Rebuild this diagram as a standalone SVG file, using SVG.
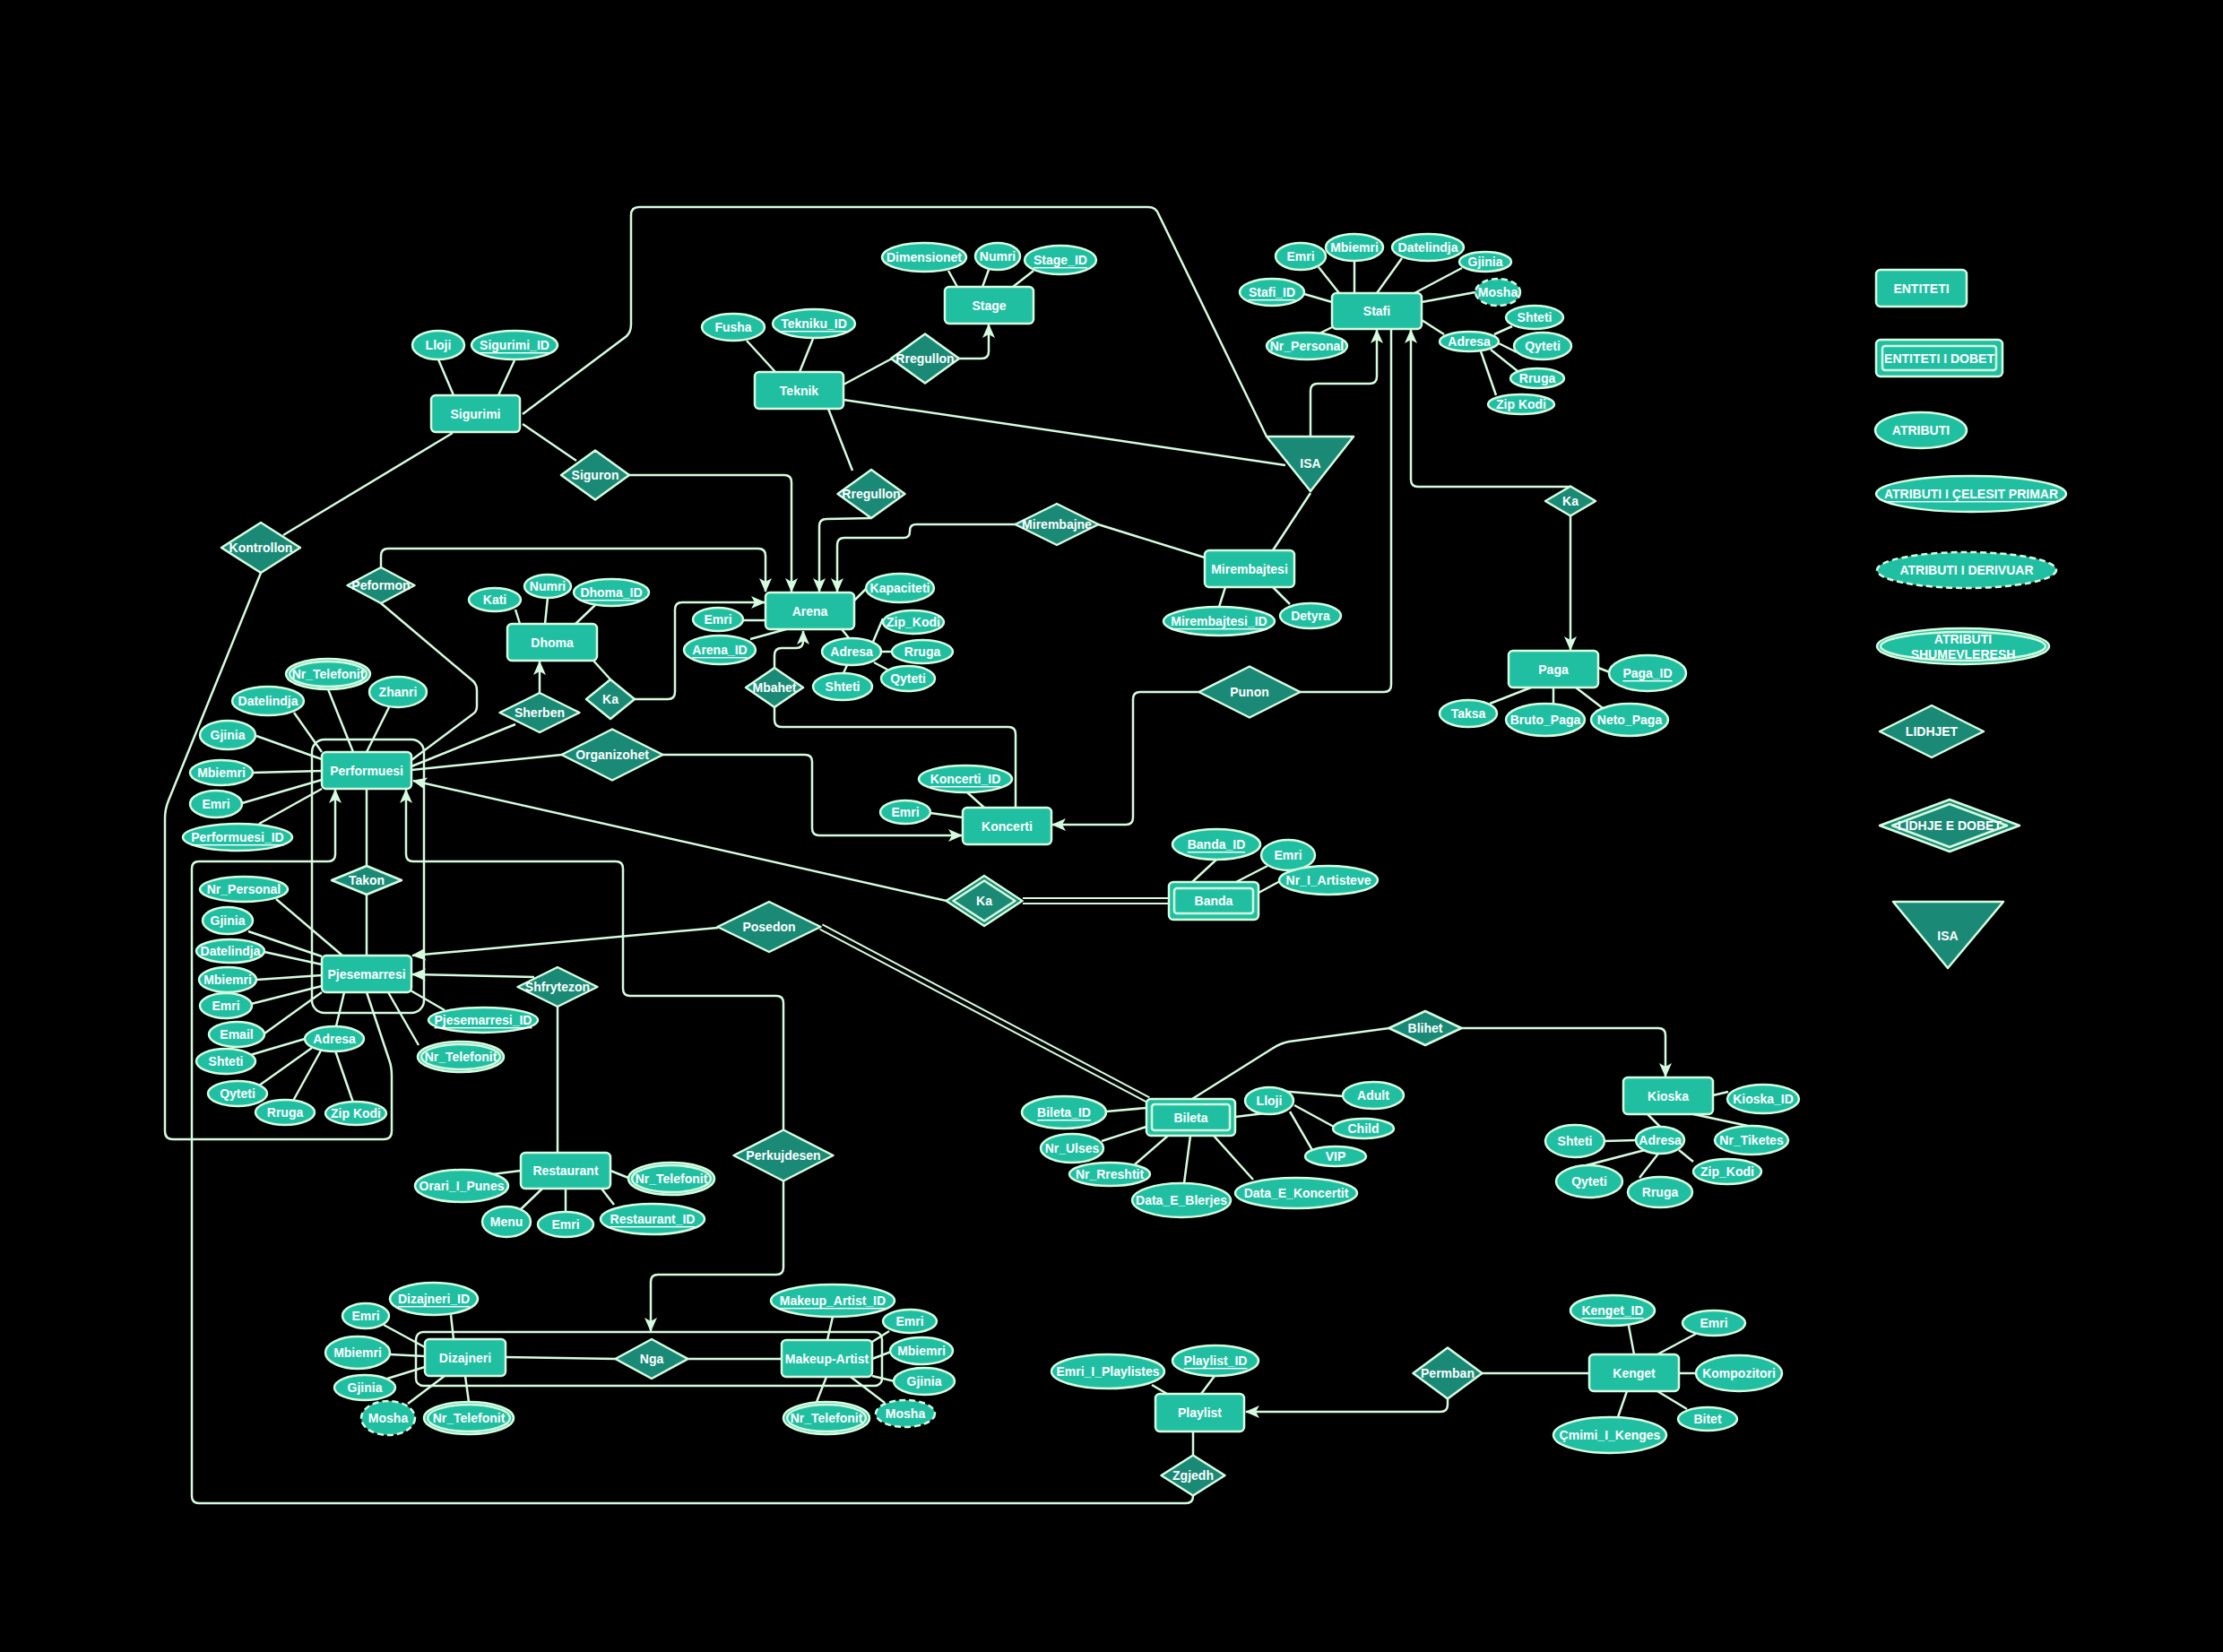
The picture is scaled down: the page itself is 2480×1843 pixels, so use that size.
<svg xmlns="http://www.w3.org/2000/svg" width="2480" height="1843" viewBox="0 0 2480 1843">
<defs>
<style>
.e{fill:#21BFA2;stroke:#D6FCE0;stroke-width:2.5}
.a{fill:#21BFA2;stroke:#D6FCE0;stroke-width:2.5}
.d{stroke-dasharray:7 4}
.r{fill:#1A8A76;stroke:#D6FCE0;stroke-width:2.5;stroke-linejoin:round}
.w{fill:none;stroke:#D6FCE0;stroke-width:2.5}
text{fill:#fff;font-family:"Liberation Sans",Arial,sans-serif;font-weight:700;font-size:14px;text-anchor:middle;dominant-baseline:central}
.u{text-decoration:underline}
.c path,.c line{fill:none;stroke:#D6FCE0;stroke-width:2.5}
.c .ar{marker-end:url(#ar)}
.c .thin{stroke-width:2}
</style>
<marker id="ar" markerUnits="userSpaceOnUse" markerWidth="16" markerHeight="14" viewBox="0 0 16 14" refX="15" refY="7" orient="auto"><path d="M0,0 L16,7 L0,14 L4,7 z" fill="#D6FCE0"/></marker>
</defs>
<rect x="0" y="0" width="2480" height="1843" fill="#000"/>

<g id="connectors" class="c">
<!-- attribute links -->
<line x1="489" y1="401" x2="506" y2="441"/><line x1="574" y1="402" x2="556" y2="441"/>
<line x1="833" y1="380" x2="865" y2="415"/><line x1="907" y1="378" x2="892" y2="415"/>
<line x1="1058" y1="302" x2="1068" y2="320"/><line x1="1103" y1="301" x2="1096" y2="320"/><line x1="1153" y1="302" x2="1130" y2="320"/>
<line x1="1471" y1="298" x2="1494" y2="327"/><line x1="1511" y1="291" x2="1511" y2="327"/><line x1="1564" y1="288" x2="1536" y2="327"/><line x1="1631" y1="299" x2="1578" y2="327"/><line x1="1646" y1="326" x2="1586" y2="337"/><line x1="1455" y1="328" x2="1486" y2="337"/><line x1="1472" y1="372" x2="1486" y2="365"/><line x1="1611" y1="373" x2="1586" y2="357"/><line x1="1667" y1="373" x2="1687" y2="364"/><line x1="1672" y1="383" x2="1692" y2="393"/><line x1="1663" y1="390" x2="1693" y2="414"/><line x1="1652" y1="392" x2="1669" y2="441"/>
<line x1="1367" y1="655" x2="1360" y2="677"/><line x1="1420" y1="655" x2="1439" y2="674"/>
<line x1="966" y1="657" x2="953" y2="670"/><line x1="829" y1="692" x2="854" y2="692"/><line x1="837" y1="713" x2="877" y2="702"/><line x1="948" y1="713" x2="939" y2="702"/><line x1="974" y1="716" x2="985" y2="690"/><line x1="983" y1="727" x2="995" y2="727"/><line x1="945" y1="742" x2="941" y2="751"/><line x1="975" y1="739" x2="990" y2="747"/>
<line x1="575" y1="680" x2="580" y2="696"/><line x1="611" y1="667" x2="608" y2="696"/><line x1="664" y1="675" x2="642" y2="696"/>
<line x1="1796" y1="750" x2="1783" y2="745"/><line x1="1662" y1="785" x2="1708" y2="767"/><line x1="1733" y1="785" x2="1733" y2="767"/><line x1="1788" y1="790" x2="1758" y2="767"/>
<line x1="366" y1="769" x2="394" y2="839"/><line x1="434" y1="789" x2="409" y2="839"/><line x1="328" y1="795" x2="359" y2="839"/><line x1="286" y1="821" x2="359" y2="847"/><line x1="282" y1="862" x2="359" y2="860"/><line x1="270" y1="896" x2="359" y2="870"/><line x1="289" y1="919" x2="359" y2="880"/>
<line x1="308" y1="1003" x2="382" y2="1066"/><line x1="277" y1="1039" x2="359" y2="1067"/><line x1="295" y1="1062" x2="359" y2="1076"/><line x1="286" y1="1093" x2="359" y2="1088"/><line x1="280" y1="1120" x2="359" y2="1100"/><line x1="295" y1="1153" x2="359" y2="1107"/><line x1="375" y1="1145" x2="384" y2="1107"/><line x1="340" y1="1159" x2="279" y2="1177"/><line x1="348" y1="1169" x2="289" y2="1211"/><line x1="358" y1="1172" x2="327" y2="1228"/><line x1="374" y1="1172" x2="394" y2="1230"/><line x1="496" y1="1127" x2="458" y2="1105"/><line x1="467" y1="1166" x2="433" y2="1107"/>
<line x1="1079" y1="884" x2="1098" y2="901"/><line x1="1038" y1="907" x2="1074" y2="912"/>
<line x1="1357" y1="959" x2="1330" y2="984"/><line x1="1414" y1="966" x2="1379" y2="984"/><line x1="1428" y1="983" x2="1404" y2="996"/>
<line x1="1234" y1="1240" x2="1279" y2="1236"/><line x1="1229" y1="1273" x2="1279" y2="1257"/><line x1="1266" y1="1299" x2="1303" y2="1267"/><line x1="1321" y1="1320" x2="1328" y2="1267"/><line x1="1398" y1="1316" x2="1354" y2="1267"/><line x1="1419" y1="1241" x2="1378" y2="1246"/><line x1="1427" y1="1217" x2="1499" y2="1223"/><line x1="1444" y1="1233" x2="1488" y2="1257"/><line x1="1439" y1="1240" x2="1464" y2="1283"/>
<line x1="1928" y1="1218" x2="1911" y2="1222"/><line x1="1950" y1="1256" x2="1889" y2="1243"/><line x1="1852" y1="1257" x2="1838" y2="1243"/><line x1="1790" y1="1273" x2="1825" y2="1272"/><line x1="1766" y1="1301" x2="1835" y2="1283"/><line x1="1829" y1="1314" x2="1850" y2="1287"/><line x1="1889" y1="1296" x2="1873" y2="1283"/>
<line x1="549" y1="1310" x2="581" y2="1306"/><line x1="701" y1="1314" x2="681" y2="1306"/><line x1="581" y1="1349" x2="605" y2="1326"/><line x1="631" y1="1352" x2="631" y2="1326"/><line x1="685" y1="1344" x2="671" y2="1326"/>
<line x1="503" y1="1467" x2="506" y2="1494"/><line x1="428" y1="1478" x2="474" y2="1503"/><line x1="435" y1="1511" x2="474" y2="1513"/><line x1="432" y1="1538" x2="474" y2="1525"/><line x1="455" y1="1566" x2="496" y2="1535"/><line x1="523" y1="1564" x2="519" y2="1535"/>
<line x1="929" y1="1469" x2="923" y2="1495"/><line x1="992" y1="1485" x2="973" y2="1497"/><line x1="994" y1="1508" x2="973" y2="1516"/><line x1="998" y1="1541" x2="973" y2="1535"/><line x1="987" y1="1565" x2="949" y2="1536"/><line x1="911" y1="1564" x2="922" y2="1536"/>
<line x1="1285" y1="1545" x2="1302" y2="1555"/><line x1="1355" y1="1535" x2="1340" y2="1555"/>
<line x1="1817" y1="1479" x2="1823" y2="1511"/><line x1="1892" y1="1488" x2="1849" y2="1511"/><line x1="1892" y1="1532" x2="1873" y2="1532"/><line x1="1882" y1="1572" x2="1849" y2="1552"/><line x1="1805" y1="1581" x2="1815" y2="1552"/>
<!-- relationship connectors -->
<path d="M505,483 L316,597"/>
<path d="M291,639 L188,893 Q184,903 184,913 L184,1262 Q184,1271 193,1271 L428,1271 Q437,1271 437,1262 L437,1200 Q437,1190 434,1182 L409,1107"/>
<path d="M583,473 L643,514"/>
<path class="ar" d="M702,530 L875,530 Q883,530 883,538 L883,660"/>
<path d="M583,462 L699,375 Q704,370 704,362 L704,240 Q704,231 713,231 L1281,231 Q1290,231 1293,240 L1413,487"/>
<path class="ar" d="M425,633 L425,620 Q425,612 433,612 L846,612 Q854,612 854,620 L854,660"/>
<path d="M425,673 L528,760 Q532,764 532,770 L532,788 Q532,794 527,797 L459,848"/>
<path d="M941,429 L995,400"/>
<path class="ar" d="M1070,400 L1095,400 Q1103,400 1103,392 L1103,362"/>
<path d="M941,446 L1434,519"/>
<path d="M924,456 L951,525"/>
<path class="ar" d="M972,578 L922,579 Q914,579 914,587 L914,660"/>
<path class="ar" d="M1133,585 L1022,585 Q1015,585 1015,592 L1015,593 Q1015,600 1008,600 L942,600 Q934,600 934,608 L934,660"/>
<path d="M1225,585 L1344,622"/>
<path d="M1462,550 L1420,614"/>
<path class="ar" d="M1462,487 L1462,436 Q1462,428 1470,428 L1528,428 Q1536,428 1536,420 L1536,368"/>
<path d="M1450,772 L1544,772 Q1552,772 1552,764 L1552,367"/>
<path class="ar" d="M1338,772 L1272,772 Q1264,772 1264,780 L1264,912 Q1264,920 1256,920 L1174,920"/>
<path class="ar" d="M1752,543 L1582,543 Q1574,543 1574,535 L1574,368"/>
<path class="ar" d="M1752,576 L1752,725"/>
<path d="M662,737 L681,758"/>
<path class="ar" d="M708,780 L745,780 Q753,780 753,772 L753,680 Q753,672 761,672 L853,672"/>
<path class="ar" d="M602,773 L602,738"/>
<path d="M575,808 L459,855"/>
<path d="M627,842 L459,859"/>
<path class="ar" d="M739,842 L898,842 Q906,842 906,850 L906,924 Q906,932 914,932 L1073,932"/>
<path class="ar" d="M864,745 L864,731 Q864,723 872,723 L888,723 Q896,723 896,715 L896,704"/>
<path d="M864,789 L864,803 Q864,811 872,811 L1125,811 Q1133,811 1133,819 L1133,901"/>
<path d="M409,880 L409,966"/>
<path d="M409,998 L409,1066"/>
<path class="ar" d="M1056,1005 L461,871"/>
<path class="thin" d="M1141,1002 L1304,1002"/>
<path class="thin" d="M1141,1008 L1304,1008"/>
<path class="ar" d="M801,1035 L460,1066"/>
<path class="thin" d="M917.4,1031.4 L1282.4,1224.4"/>
<path class="thin" d="M914.6,1036.7 L1279.6,1229.7"/>
<path class="ar" d="M596,1090 L460,1087"/>
<path d="M622,1123 L622,1286"/>
<path class="ar" d="M1331,1668 L1331,1669 Q1331,1677 1323,1677 L222,1677 Q214,1677 214,1669 L214,969 Q214,961 222,961 L366,961 Q374,961 374,953 L374,881"/>
<path class="ar" d="M874,1261 L874,1119 Q874,1111 866,1111 L703,1111 Q695,1111 695,1103 L695,969 Q695,961 687,961 L461,961 Q453,961 453,953 L453,881"/>
<path class="ar" d="M874,1318 L874,1414 Q874,1422 866,1422 L734,1422 Q726,1422 726,1430 L726,1485"/>
<path d="M564,1514 L687,1516"/>
<path d="M767,1516 L872,1516"/>
<path d="M1330,1226 L1419,1170 Q1428,1164 1438,1162 L1550,1147"/>
<path class="ar" d="M1630,1147 L1850,1147 Q1858,1147 1858,1155 L1858,1201"/>
<path d="M1331,1597 L1331,1624"/>
<path d="M1653,1532 L1773,1532"/>
<path class="ar" d="M1615,1560 L1615,1567 Q1615,1575 1607,1575 L1390,1575"/>
</g>

<g id="aggregations">
<rect class="w" x="348" y="825" width="125" height="305" rx="14"/>
<rect class="w" x="464" y="1486" width="520" height="60" rx="8"/>
</g>

<!-- entities -->
<g id="sigurimi"><rect class="e" x="481" y="441" width="99" height="41" rx="5"/><text x="530.5" y="461.5">Sigurimi</text></g>
<g id="teknik"><rect class="e" x="842" y="415" width="99" height="41" rx="5"/><text x="891.5" y="435.5">Teknik</text></g>
<g id="stage"><rect class="e" x="1054" y="320" width="99" height="41" rx="5"/><text x="1103.5" y="340.5">Stage</text></g>
<g id="stafi"><rect class="e" x="1486" y="327" width="100" height="40" rx="5"/><text x="1536" y="347">Stafi</text></g>
<g id="mirembajtesi"><rect class="e" x="1344" y="614" width="100" height="41" rx="5"/><text x="1394" y="634.5">Mirembajtesi</text></g>
<g id="arena"><rect class="e" x="854" y="661" width="99" height="41" rx="5"/><text x="903.5" y="681.5">Arena</text></g>
<g id="dhoma"><rect class="e" x="566" y="696" width="100" height="41" rx="5"/><text x="616" y="716.5">Dhoma</text></g>
<g id="paga"><rect class="e" x="1683" y="726" width="100" height="41" rx="5"/><text x="1733" y="746.5">Paga</text></g>
<g id="performuesi"><rect class="e" x="359" y="839" width="100" height="41" rx="5"/><text x="409" y="859.5">Performuesi</text></g>
<g id="pjesemarresi"><rect class="e" x="359" y="1066" width="100" height="41" rx="5"/><text x="409" y="1086.5">Pjesemarresi</text></g>
<g id="koncerti"><rect class="e" x="1074" y="901" width="99" height="41" rx="5"/><text x="1123.5" y="921.5">Koncerti</text></g>
<g id="banda"><rect class="e" x="1304" y="984" width="100" height="42" rx="5"/><rect class="e" x="1310" y="991" width="88" height="28" rx="3"/><text x="1354" y="1005">Banda</text></g>
<g id="bileta"><rect class="e" x="1279" y="1226" width="99" height="41" rx="5"/><rect class="e" x="1285" y="1232" width="87" height="29" rx="3"/><text x="1328.5" y="1246.5">Bileta</text></g>
<g id="kioska"><rect class="e" x="1811" y="1202" width="100" height="41" rx="5"/><text x="1861" y="1222.5">Kioska</text></g>
<g id="restaurant"><rect class="e" x="581" y="1286" width="100" height="40" rx="5"/><text x="631" y="1306">Restaurant</text></g>
<g id="dizajneri"><rect class="e" x="474" y="1494" width="90" height="41" rx="5"/><text x="519" y="1514.5">Dizajneri</text></g>
<g id="makeup-artist"><rect class="e" x="872" y="1495" width="101" height="41" rx="5"/><text x="922.5" y="1515.5">Makeup-Artist</text></g>
<g id="playlist"><rect class="e" x="1289" y="1555" width="99" height="42" rx="5"/><text x="1338.5" y="1576">Playlist</text></g>
<g id="kenget"><rect class="e" x="1773" y="1511" width="100" height="41" rx="5"/><text x="1823" y="1531.5">Kenget</text></g>

<!-- relationships -->
<g id="kontrollon"><polygon class="r" points="247,611 291,583 335,611 291,639"/><text x="291" y="611">Kontrollon</text></g>
<g id="siguron"><polygon class="r" points="626,530 664,502.5 702,530 664,557.5"/><text x="664" y="530">Siguron</text></g>
<g id="peformon"><polygon class="r" points="387.5,653 425,633 462.5,653 425,673"/><text x="425" y="653">Peformon</text></g>
<g id="rregullon-stage"><polygon class="r" points="994,400 1032,372.5 1070,400 1032,427.5"/><text x="1032" y="400">Rregullon</text></g>
<g id="rregullon-arena"><polygon class="r" points="934.5,551 972,524 1009.5,551 972,578"/><text x="972" y="551">Rregullon</text></g>
<g id="mirembajne"><polygon class="r" points="1132.5,585 1179,562 1225.5,585 1179,608"/><text x="1179" y="585">Mirembajne</text></g>
<g id="ka-dhoma"><polygon class="r" points="654,780 681,758 708,780 681,802"/><text x="681" y="780">Ka</text></g>
<g id="sherben"><polygon class="r" points="557.5,795 602,773 646.5,795 602,817"/><text x="602" y="795">Sherben</text></g>
<g id="organizohet"><polygon class="r" points="626.5,842 683,813.5 739.5,842 683,870.5"/><text x="683" y="842">Organizohet</text></g>
<g id="mbahet"><polygon class="r" points="832,767 864,745 896,767 864,789"/><text x="864" y="767">Mbahet</text></g>
<g id="punon"><polygon class="r" points="1337.5,772 1394,743.5 1450.5,772 1394,800.5"/><text x="1394" y="772">Punon</text></g>
<g id="ka-paga"><polygon class="r" points="1724,559 1752,542.5 1780,559 1752,575.5"/><text x="1752" y="559">Ka</text></g>
<g id="takon"><polygon class="r" points="370,982 409,966 448,982 409,998"/><text x="409" y="982">Takon</text></g>
<g id="shfrytezon"><polygon class="r" points="577.5,1101 622,1079 666.5,1101 622,1123"/><text x="622" y="1101">Shfrytezon</text></g>
<g id="posedon"><polygon class="r" points="800.5,1034 858,1006 915.5,1034 858,1062"/><text x="858" y="1034">Posedon</text></g>
<g id="ka-banda"><polygon class="r" points="1055.5,1005 1098,977 1140.5,1005 1098,1033"/><polygon class="r" points="1063.5,1005 1098,982.5 1132.5,1005 1098,1027.5"/><text x="1098" y="1005">Ka</text></g>
<g id="blihet"><polygon class="r" points="1549.5,1147 1590,1128 1630.5,1147 1590,1166"/><text x="1590" y="1147">Blihet</text></g>
<g id="perkujdesen"><polygon class="r" points="818.5,1289 874,1260.5 929.5,1289 874,1317.5"/><text x="874" y="1289">Perkujdesen</text></g>
<g id="nga"><polygon class="r" points="686.5,1516 727,1494 767.5,1516 727,1538"/><text x="727" y="1516">Nga</text></g>
<g id="zgjedh"><polygon class="r" points="1295.5,1646 1331,1623.5 1366.5,1646 1331,1668.5"/><text x="1331" y="1646">Zgjedh</text></g>
<g id="permban"><polygon class="r" points="1576.5,1532 1615,1503.5 1653.5,1532 1615,1560.5"/><text x="1615" y="1532">Permban</text></g>
<g id="isa"><polygon class="r" points="1413,487 1510,487 1462,548"/><text x="1462" y="517">ISA</text></g>

<!-- attributes -->
<g id="attr-sigurimi">
<ellipse class="a" cx="489" cy="385" rx="29" ry="16"/><text x="489" y="385">Lloji</text>
<ellipse class="a" cx="574" cy="385" rx="48" ry="16"/><text class="u" x="574" y="385">Sigurimi_ID</text>
</g>
<g id="attr-teknik">
<ellipse class="a" cx="818" cy="365" rx="35" ry="15"/><text x="818" y="365">Fusha</text>
<ellipse class="a" cx="908" cy="361" rx="46" ry="16"/><text class="u" x="908" y="361">Tekniku_ID</text>
</g>
<g id="attr-stage">
<ellipse class="a" cx="1031" cy="287" rx="47" ry="16"/><text x="1031" y="287">Dimensionet</text>
<ellipse class="a" cx="1113" cy="286" rx="25" ry="15"/><text x="1113" y="286">Numri</text>
<ellipse class="a" cx="1183" cy="290" rx="40" ry="16"/><text class="u" x="1183" y="290">Stage_ID</text>
</g>
<g id="attr-stafi">
<ellipse class="a" cx="1451" cy="286" rx="28" ry="15"/><text x="1451" y="286">Emri</text>
<ellipse class="a" cx="1511" cy="276" rx="32" ry="15"/><text x="1511" y="276">Mbiemri</text>
<ellipse class="a" cx="1593" cy="276" rx="40" ry="15"/><text x="1593" y="276">Datelindja</text>
<ellipse class="a" cx="1657" cy="292" rx="29" ry="11"/><text x="1657" y="292">Gjinia</text>
<ellipse class="a d" cx="1671" cy="326" rx="25" ry="15"/><text x="1671" y="326">Mosha</text>
<ellipse class="a" cx="1419" cy="326" rx="36" ry="15"/><text class="u" x="1419" y="326">Stafi_ID</text>
<ellipse class="a" cx="1458" cy="386" rx="45" ry="15"/><text x="1458" y="386">Nr_Personal</text>
<ellipse class="a" cx="1639" cy="381" rx="33" ry="11"/><text x="1639" y="381">Adresa</text>
<ellipse class="a" cx="1712" cy="354" rx="32" ry="13"/><text x="1712" y="354">Shteti</text>
<ellipse class="a" cx="1721" cy="386" rx="32" ry="15"/><text x="1721" y="386">Qyteti</text>
<ellipse class="a" cx="1715" cy="422" rx="30" ry="11"/><text x="1715" y="422">Rruga</text>
<ellipse class="a" cx="1697" cy="451" rx="37" ry="11"/><text x="1697" y="451">Zip Kodi</text>
</g>
<g id="attr-mirembajtesi">
<ellipse class="a" cx="1360" cy="693" rx="62" ry="16"/><text class="u" x="1360" y="693">Mirembajtesi_ID</text>
<ellipse class="a" cx="1462" cy="687" rx="34" ry="14"/><text x="1462" y="687">Detyra</text>
</g>
<g id="attr-arena">
<ellipse class="a" cx="1004" cy="656" rx="38" ry="16"/><text x="1004" y="656">Kapaciteti</text>
<ellipse class="a" cx="801" cy="691" rx="28" ry="13"/><text x="801" y="691">Emri</text>
<ellipse class="a" cx="803" cy="725" rx="40" ry="16"/><text class="u" x="803" y="725">Arena_ID</text>
<ellipse class="a" cx="950" cy="727" rx="33" ry="15"/><text x="950" y="727">Adresa</text>
<ellipse class="a" cx="1019" cy="694" rx="34" ry="13"/><text x="1019" y="694">Zip_Kodi</text>
<ellipse class="a" cx="1029" cy="727" rx="34" ry="13"/><text x="1029" y="727">Rruga</text>
<ellipse class="a" cx="940" cy="766" rx="33" ry="15"/><text x="940" y="766">Shteti</text>
<ellipse class="a" cx="1013" cy="757" rx="30" ry="14"/><text x="1013" y="757">Qyteti</text>
</g>
<g id="attr-dhoma">
<ellipse class="a" cx="552" cy="669" rx="29" ry="13"/><text x="552" y="669">Kati</text>
<ellipse class="a" cx="611" cy="654" rx="26" ry="13"/><text x="611" y="654">Numri</text>
<ellipse class="a" cx="682" cy="661" rx="42" ry="15"/><text class="u" x="682" y="661">Dhoma_ID</text>
</g>
<g id="attr-paga">
<ellipse class="a" cx="1838" cy="751" rx="43" ry="20"/><text class="u" x="1838" y="751">Paga_ID</text>
<ellipse class="a" cx="1638" cy="796" rx="32" ry="15"/><text x="1638" y="796">Taksa</text>
<ellipse class="a" cx="1724" cy="803" rx="44" ry="18"/><text x="1724" y="803">Bruto_Paga</text>
<ellipse class="a" cx="1818" cy="803" rx="43" ry="18"/><text x="1818" y="803">Neto_Paga</text>
</g>
<g id="attr-performuesi">
<ellipse class="a" cx="366" cy="752" rx="47" ry="17"/><ellipse class="a" cx="366" cy="752" rx="43" ry="14"/><text x="366" y="752">Nr_Telefonit</text>
<ellipse class="a" cx="444" cy="772" rx="32" ry="17"/><text x="444" y="772">Zhanri</text>
<ellipse class="a" cx="299" cy="782" rx="40" ry="16"/><text x="299" y="782">Datelindja</text>
<ellipse class="a" cx="254" cy="820" rx="31" ry="16"/><text x="254" y="820">Gjinia</text>
<ellipse class="a" cx="247" cy="862" rx="35" ry="14"/><text x="247" y="862">Mbiemri</text>
<ellipse class="a" cx="241" cy="897" rx="29" ry="15"/><text x="241" y="897">Emri</text>
<ellipse class="a" cx="265" cy="934" rx="61" ry="15"/><text class="u" x="265" y="934">Performuesi_ID</text>
</g>
<g id="attr-pjesemarresi">
<ellipse class="a" cx="272" cy="992" rx="49" ry="14"/><text x="272" y="992">Nr_Personal</text>
<ellipse class="a" cx="254" cy="1027" rx="28" ry="15"/><text x="254" y="1027">Gjinia</text>
<ellipse class="a" cx="257" cy="1061" rx="38" ry="13"/><text x="257" y="1061">Datelindja</text>
<ellipse class="a" cx="254" cy="1093" rx="32" ry="14"/><text x="254" y="1093">Mbiemri</text>
<ellipse class="a" cx="252" cy="1122" rx="29" ry="14"/><text x="252" y="1122">Emri</text>
<ellipse class="a" cx="264" cy="1154" rx="31" ry="14"/><text x="264" y="1154">Email</text>
<ellipse class="a" cx="373" cy="1159" rx="33" ry="14"/><text x="373" y="1159">Adresa</text>
<ellipse class="a" cx="252" cy="1184" rx="33" ry="14"/><text x="252" y="1184">Shteti</text>
<ellipse class="a" cx="265" cy="1220" rx="33" ry="14"/><text x="265" y="1220">Qyteti</text>
<ellipse class="a" cx="318" cy="1241" rx="33" ry="14"/><text x="318" y="1241">Rruga</text>
<ellipse class="a" cx="397" cy="1242" rx="34" ry="13"/><text x="397" y="1242">Zip Kodi</text>
<ellipse class="a" cx="539" cy="1138" rx="61" ry="14"/><text class="u" x="539" y="1138">Pjesemarresi_ID</text>
<ellipse class="a" cx="514" cy="1179" rx="48" ry="17"/><ellipse class="a" cx="514" cy="1179" rx="44" ry="14"/><text x="514" y="1179">Nr_Telefonit</text>
</g>
<g id="attr-koncerti">
<ellipse class="a" cx="1077" cy="869" rx="52" ry="15"/><text class="u" x="1077" y="869">Koncerti_ID</text>
<ellipse class="a" cx="1010" cy="906" rx="28" ry="13"/><text x="1010" y="906">Emri</text>
</g>
<g id="attr-banda">
<ellipse class="a" cx="1357" cy="942" rx="49" ry="17"/><text x="1357" y="942" style="text-decoration:underline dotted">Banda_ID</text>
<ellipse class="a" cx="1437" cy="954" rx="30" ry="17"/><text x="1437" y="954">Emri</text>
<ellipse class="a" cx="1482" cy="982" rx="55" ry="16"/><text x="1482" y="982">Nr_I_Artisteve</text>
</g>
<g id="attr-bileta">
<ellipse class="a" cx="1187" cy="1241" rx="47" ry="18"/><text x="1187" y="1241" style="text-decoration:underline dotted">Bileta_ID</text>
<ellipse class="a" cx="1196" cy="1281" rx="35" ry="16"/><text x="1196" y="1281">Nr_Ulses</text>
<ellipse class="a" cx="1238" cy="1310" rx="45" ry="13"/><text x="1238" y="1310">Nr_Rreshtit</text>
<ellipse class="a" cx="1318" cy="1339" rx="55" ry="19"/><text x="1318" y="1339">Data_E_Blerjes</text>
<ellipse class="a" cx="1446" cy="1331" rx="68" ry="17"/><text x="1446" y="1331">Data_E_Koncertit</text>
<ellipse class="a" cx="1416" cy="1228" rx="27" ry="15"/><text x="1416" y="1228">Lloji</text>
<ellipse class="a" cx="1532" cy="1222" rx="34" ry="15"/><text x="1532" y="1222">Adult</text>
<ellipse class="a" cx="1521" cy="1259" rx="34" ry="11"/><text x="1521" y="1259">Child</text>
<ellipse class="a" cx="1490" cy="1290" rx="34" ry="11"/><text x="1490" y="1290">VIP</text>
</g>
<g id="attr-kioska">
<ellipse class="a" cx="1967" cy="1226" rx="40" ry="16"/><text x="1967" y="1226">Kioska_ID</text>
<ellipse class="a" cx="1954" cy="1272" rx="41" ry="16"/><text x="1954" y="1272">Nr_Tiketes</text>
<ellipse class="a" cx="1852" cy="1272" rx="27" ry="15"/><text x="1852" y="1272">Adresa</text>
<ellipse class="a" cx="1757" cy="1273" rx="33" ry="18"/><text x="1757" y="1273">Shteti</text>
<ellipse class="a" cx="1773" cy="1318" rx="37" ry="18"/><text x="1773" y="1318">Qyteti</text>
<ellipse class="a" cx="1852" cy="1330" rx="36" ry="17"/><text x="1852" y="1330">Rruga</text>
<ellipse class="a" cx="1927" cy="1307" rx="38" ry="14"/><text x="1927" y="1307">Zip_Kodi</text>
</g>
<g id="attr-restaurant">
<ellipse class="a" cx="515" cy="1323" rx="52" ry="18"/><text x="515" y="1323">Orari_I_Punes</text>
<ellipse class="a" cx="749" cy="1315" rx="48" ry="18"/><ellipse class="a" cx="749" cy="1315" rx="44" ry="15"/><text x="749" y="1315">Nr_Telefonit</text>
<ellipse class="a" cx="565" cy="1363" rx="27" ry="17"/><text x="565" y="1363">Menu</text>
<ellipse class="a" cx="631" cy="1366" rx="31" ry="14"/><text x="631" y="1366">Emri</text>
<ellipse class="a" cx="728" cy="1360" rx="58" ry="17"/><text class="u" x="728" y="1360">Restaurant_ID</text>
</g>
<g id="attr-dizajneri">
<ellipse class="a" cx="484" cy="1449" rx="49" ry="18"/><text class="u" x="484" y="1449">Dizajneri_ID</text>
<ellipse class="a" cx="408" cy="1468" rx="26" ry="14"/><text x="408" y="1468">Emri</text>
<ellipse class="a" cx="399" cy="1509" rx="36" ry="18"/><text x="399" y="1509">Mbiemri</text>
<ellipse class="a" cx="407" cy="1548" rx="34" ry="14"/><text x="407" y="1548">Gjinia</text>
<ellipse class="a d" cx="433" cy="1582" rx="30" ry="19"/><text x="433" y="1582">Mosha</text>
<ellipse class="a" cx="523" cy="1582" rx="50" ry="18"/><ellipse class="a" cx="523" cy="1582" rx="46" ry="15"/><text x="523" y="1582">Nr_Telefonit</text>
</g>
<g id="attr-makeup-artist">
<ellipse class="a" cx="929" cy="1451" rx="69" ry="18"/><text class="u" x="929" y="1451">Makeup_Artist_ID</text>
<ellipse class="a" cx="1015" cy="1474" rx="30" ry="13"/><text x="1015" y="1474">Emri</text>
<ellipse class="a" cx="1028" cy="1507" rx="35" ry="15"/><text x="1028" y="1507">Mbiemri</text>
<ellipse class="a" cx="1031" cy="1541" rx="34" ry="15"/><text x="1031" y="1541">Gjinia</text>
<ellipse class="a d" cx="1010" cy="1577" rx="33" ry="15"/><text x="1010" y="1577">Mosha</text>
<ellipse class="a" cx="922" cy="1582" rx="48" ry="18"/><ellipse class="a" cx="922" cy="1582" rx="44" ry="15"/><text x="922" y="1582">Nr_Telefonit</text>
</g>
<g id="attr-playlist">
<ellipse class="a" cx="1236" cy="1530" rx="63" ry="19"/><text x="1236" y="1530">Emri_I_Playlistes</text>
<ellipse class="a" cx="1356" cy="1518" rx="48" ry="17"/><text class="u" x="1356" y="1518">Playlist_ID</text>
</g>
<g id="attr-kenget">
<ellipse class="a" cx="1799" cy="1462" rx="47" ry="17"/><text class="u" x="1799" y="1462">Kenget_ID</text>
<ellipse class="a" cx="1912" cy="1476" rx="35" ry="14"/><text x="1912" y="1476">Emri</text>
<ellipse class="a" cx="1940" cy="1532" rx="48" ry="20"/><text x="1940" y="1532">Kompozitori</text>
<ellipse class="a" cx="1905" cy="1583" rx="33" ry="13"/><text x="1905" y="1583">Bitet</text>
<ellipse class="a" cx="1796" cy="1601" rx="63" ry="20"/><text x="1796" y="1601">Çmimi_I_Kenges</text>
</g>

<!-- legend -->
<g id="legend">
<g id="legend-entiteti"><rect class="e" x="2093" y="301" width="101" height="41" rx="5"/><text x="2143.5" y="321.5">ENTITETI</text></g>
<g id="legend-entiteti-dobet"><rect class="e" x="2093" y="379" width="141" height="41" rx="5"/><rect class="e" x="2100" y="386" width="127" height="27" rx="3"/><text x="2163.5" y="399.5">ENTITETI I DOBET</text></g>
<g id="legend-atributi"><ellipse class="a" cx="2143" cy="480" rx="51" ry="20"/><text x="2143" y="480">ATRIBUTI</text></g>
<g id="legend-primar"><ellipse class="a" cx="2199" cy="551" rx="106" ry="20"/><text class="u" x="2199" y="551">ATRIBUTI I ÇELESIT PRIMAR</text></g>
<g id="legend-derivuar"><ellipse class="a d" cx="2194" cy="636" rx="100" ry="20"/><text x="2194" y="636">ATRIBUTI I DERIVUAR</text></g>
<g id="legend-shumevleresh"><ellipse class="a" cx="2190" cy="721" rx="96" ry="20"/><ellipse class="a" cx="2190" cy="721" rx="92" ry="16"/><text x="2190" y="713">ATRIBUTI</text><text x="2190" y="730">SHUMEVLERESH</text></g>
<g id="legend-lidhjet"><polygon class="r" points="2097,816 2155,787 2213,816 2155,845"/><text x="2155" y="816">LIDHJET</text></g>
<g id="legend-lidhje-dobet"><polygon class="r" points="2097,921 2175,892 2253,921 2175,950"/><polygon class="r" points="2111,921 2175,897 2239,921 2175,945"/><text x="2175" y="921">LIDHJE E DOBET</text></g>
<g id="legend-isa"><polygon class="r" points="2112,1006 2235,1006 2173,1080"/><text x="2173" y="1044">ISA</text></g>
</g>
</svg>
